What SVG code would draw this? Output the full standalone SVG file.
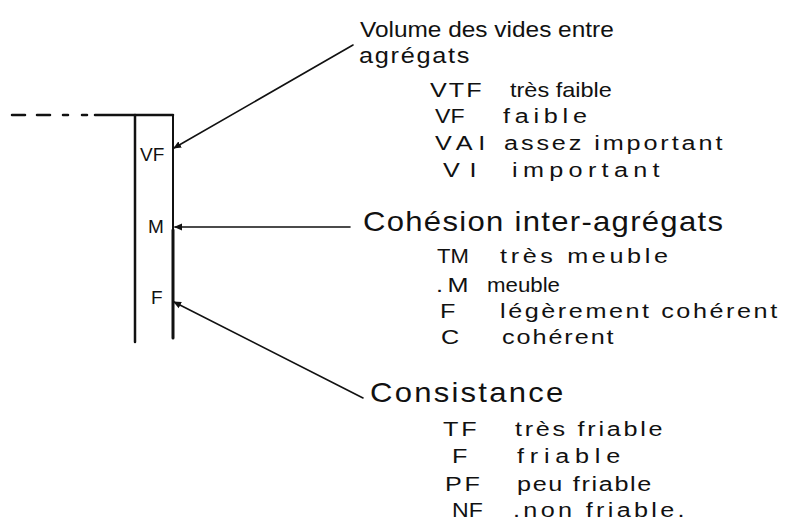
<svg xmlns="http://www.w3.org/2000/svg" width="789" height="525" viewBox="0 0 789 525">
  <style>
    .ink { stroke: #111; fill: none; stroke-linecap: round; }
    text { font-family: "Liberation Sans", "DejaVu Sans", sans-serif; fill: #111; }
    .head { font-size: 22px; }
    .big { font-size: 27px; }
    .item { font-size: 21px; }
    .tag { font-size: 19px; }
  </style>
  <defs>
    <marker id="tip" markerWidth="8" markerHeight="8" refX="7" refY="4" orient="auto" markerUnits="userSpaceOnUse">
      <path d="M0,0.5 L8,4 L0,7.5 Z" fill="#111"/>
    </marker>
  </defs>
  <rect width="789" height="525" fill="#fff"/>

  <!-- profile column -->
  <g id="profile">
    <path class="ink" stroke-width="2.5" d="M12,115 H25 M37,115 H50 M63,115 H68 M82,115 H87"/>
    <path class="ink" stroke-width="2.5" d="M95,115 H173"/>
    <path class="ink" stroke-width="2.5" d="M135,115 V342"/>
    <path class="ink" stroke-width="2" d="M173,115 V230"/>
    <path class="ink" stroke-width="3" d="M173,230 V338"/>
    <text class="tag" x="140" y="161">VF</text>
    <text class="tag" x="148" y="233">M</text>
    <text class="tag" x="151" y="304">F</text>
  </g>

  <!-- pointers from the legends to the column -->
  <g id="connectors">
    <path class="ink" stroke-width="1.6" d="M353,45 L174,148" marker-end="url(#tip)"/>
    <path class="ink" stroke-width="1.6" d="M350,227 L175,227" marker-end="url(#tip)"/>
    <path class="ink" stroke-width="1.6" d="M363,398 L174,302" marker-end="url(#tip)"/>
  </g>

  <!-- volume of voids between aggregates (wide lettering: uniform horizontal scale, spacing fills the rest) -->
  <g id="volume">
    <text class="head" transform="matrix(1.11,0,0,1,360,37)">Volume des vides entre</text>
    <text class="head" transform="matrix(1.15,0,0,1,359,63)" textLength="96" lengthAdjust="spacing">agrégats</text>
    <text class="item" transform="matrix(1.2,0,0,1,430,97)" textLength="43" lengthAdjust="spacing">VTF</text>
    <text class="item" transform="matrix(1.12,0,0,1,510,97)">très faible</text>
    <text class="item" transform="matrix(1.1,0,0,1,435,123)">VF</text>
    <text class="item" transform="matrix(1.2,0,0,1,503,123)" textLength="70" lengthAdjust="spacing">faible</text>
    <text class="item" transform="matrix(1.2,0,0,1,435,150)" textLength="42" lengthAdjust="spacing">VAI</text>
    <text class="item" transform="matrix(1.2,0,0,1,504,150)" textLength="182" lengthAdjust="spacing">assez important</text>
    <text class="item" transform="matrix(1.2,0,0,1,443,177)" textLength="28" lengthAdjust="spacing">VI</text>
    <text class="item" transform="matrix(1.2,0,0,1,512,177)" textLength="123" lengthAdjust="spacing">important</text>
  </g>

  <!-- cohesion between aggregates -->
  <g id="cohesion">
    <text class="big" transform="matrix(1.15,0,0,1,363,231)" textLength="313" lengthAdjust="spacing">Cohésion inter-agrégats</text>
    <text class="item" transform="matrix(1.05,0,0,1,437,263)">TM</text>
    <text class="item" transform="matrix(1.2,0,0,1,500,263)" textLength="140" lengthAdjust="spacing">très meuble</text>
    <text class="item" transform="matrix(1.2,0,0,1,436,292)" textLength="27" lengthAdjust="spacing">.M</text>
    <text class="item" transform="matrix(1.06,0,0,1,487,292)">meuble</text>
    <text class="item" transform="matrix(1.2,0,0,1,440,318)">F</text>
    <text class="item" transform="matrix(1.2,0,0,1,500,318)" textLength="231" lengthAdjust="spacing">légèrement cohérent</text>
    <text class="item" transform="matrix(1.2,0,0,1,441,344)">C</text>
    <text class="item" transform="matrix(1.2,0,0,1,502,344)" textLength="93" lengthAdjust="spacing">cohérent</text>
  </g>

  <!-- consistency -->
  <g id="consistance">
    <text class="big" transform="matrix(1.15,0,0,1,370,402)" textLength="168" lengthAdjust="spacing">Consistance</text>
    <text class="item" transform="matrix(1.2,0,0,1,443,436)" textLength="28" lengthAdjust="spacing">TF</text>
    <text class="item" transform="matrix(1.2,0,0,1,515,436)" textLength="123" lengthAdjust="spacing">très friable</text>
    <text class="item" transform="matrix(1.2,0,0,1,452,463)">F</text>
    <text class="item" transform="matrix(1.2,0,0,1,517,463)" textLength="86" lengthAdjust="spacing">friable</text>
    <text class="item" transform="matrix(1.2,0,0,1,445,491)" textLength="29" lengthAdjust="spacing">PF</text>
    <text class="item" transform="matrix(1.2,0,0,1,517,491)" textLength="112" lengthAdjust="spacing">peu friable</text>
    <text class="item" transform="matrix(1.1,0,0,1,452,517)">NF</text>
    <text class="item" transform="matrix(1.2,0,0,1,513,517)" textLength="143" lengthAdjust="spacing">.non friable.</text>
  </g>
</svg>
